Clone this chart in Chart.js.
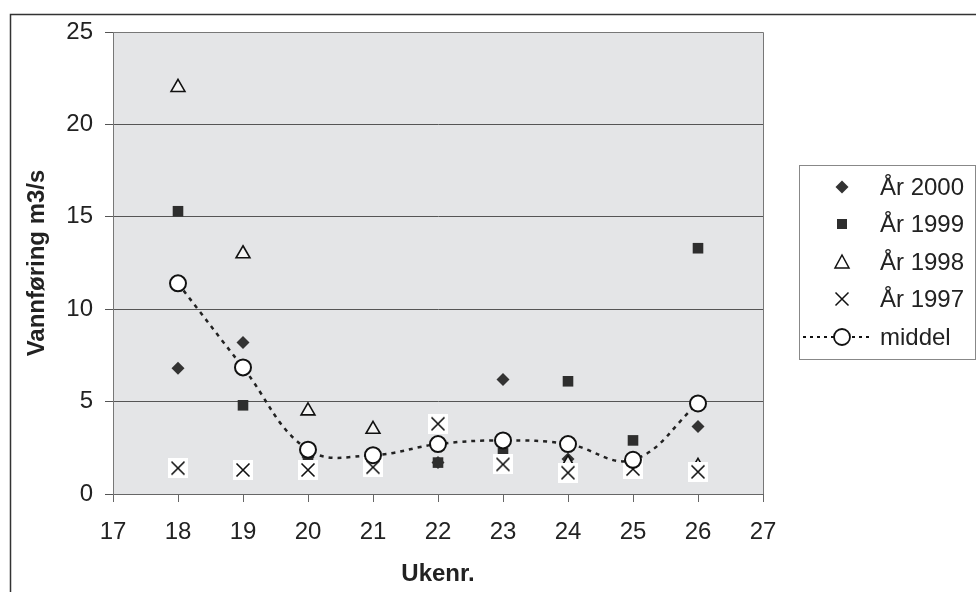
<!DOCTYPE html>
<html><head><meta charset="utf-8">
<script src="https://cdn.jsdelivr.net/npm/chart.js@4.4.1/dist/chart.umd.min.js"></script>
<style>html,body{margin:0;padding:0;background:#fff;} canvas{display:block;}</style>
</head><body>
<canvas id="c" width="976" height="592"></canvas>
<script>
const weeks = [18, 19, 20, 21, 22, 23, 24, 25, 26];
const year2000 = [6.8, 8.2, 2.0, 1.8, 1.7, 6.2, 1.9, 1.6, 3.65];
const year1999 = [15.3, 4.8, 1.8, 1.7, 1.7, 2.2, 6.1, 2.9, 13.3];
const year1998 = [22.0, 13.0, 4.5, 3.5, 3.6, 1.6, 1.65, 1.5, 1.5];
const year1997 = [1.4, 1.3, 1.3, 1.45, 3.8, 1.6, 1.15, 1.35, 1.2];
const middel = [11.4, 6.85, 2.4, 2.1, 2.7, 2.9, 2.7, 1.85, 4.9];
const seriesNames = ['År 2000', 'År 1999', 'År 1998', 'År 1997', 'middel'];
const xTitle = 'Ukenr.';
const yTitle = 'Vannføring m3/s';

const FONT = '"Liberation Sans", Arial, sans-serif';
const pts = arr => weeks.map((w, i) => ({x: w, y: arr[i]}));

// X marker on a white square (as in the original)
function makeCrossBox() {
  const c = document.createElement('canvas');
  c.width = 20; c.height = 20;
  const g = c.getContext('2d');
  g.fillStyle = '#ffffff';
  g.fillRect(0, 0, 20, 20);
  g.strokeStyle = '#111';
  g.lineWidth = 1.6;
  g.beginPath();
  g.moveTo(3.5, 3.5); g.lineTo(16.5, 16.5);
  g.moveTo(16.5, 3.5); g.lineTo(3.5, 16.5);
  g.stroke();
  return c;
}
const crossBox = makeCrossBox();

const bgPlugin = {
  id: 'bg',
  beforeDraw(chart) {
    const {ctx, chartArea: a} = chart;
    ctx.save();
    ctx.fillStyle = '#e4e5e7';
    ctx.fillRect(a.left, a.top, a.right - a.left, a.bottom - a.top);
    ctx.strokeStyle = '#333';
    ctx.lineWidth = 1.5;
    ctx.strokeRect(10.5, 14.5, 1000, 1000);
    ctx.restore();
  },
  afterDatasetsDraw(chart) {
    const {ctx, chartArea: a} = chart;
    ctx.save();
    ctx.strokeStyle = '#777';
    ctx.lineWidth = 1;
    ctx.beginPath();
    ctx.moveTo(a.left, a.top + 0.5); ctx.lineTo(a.right + 0.5, a.top + 0.5);
    ctx.lineTo(a.right + 0.5, a.bottom);
    ctx.stroke();
    ctx.restore();
  },
  afterDraw(chart) {
    const ctx = chart.ctx;
    ctx.save();
    ctx.strokeStyle = '#888';
    ctx.lineWidth = 1;
    ctx.strokeRect(799.5, 165.5, 176, 194);
    const mx = 842, tx = 880;
    const rows = [187, 224, 262, 299, 337];
    ctx.font = '24px ' + FONT;
    ctx.fillStyle = '#222';
    ctx.textBaseline = 'middle';
    rows.forEach((y, i) => ctx.fillText(seriesNames[i], tx, y + 1));
    // diamond
    ctx.fillStyle = '#333';
    ctx.beginPath();
    ctx.moveTo(mx, rows[0] - 6.5); ctx.lineTo(mx + 6.5, rows[0]); ctx.lineTo(mx, rows[0] + 6.5); ctx.lineTo(mx - 6.5, rows[0]);
    ctx.closePath(); ctx.fill();
    // square
    ctx.fillStyle = '#2e2e2e';
    ctx.fillRect(mx - 5, rows[1] - 5, 10, 10);
    // triangle
    ctx.strokeStyle = '#111'; ctx.lineWidth = 1.5;
    ctx.beginPath();
    ctx.moveTo(mx, rows[2] - 7); ctx.lineTo(mx + 7, rows[2] + 6); ctx.lineTo(mx - 7, rows[2] + 6);
    ctx.closePath(); ctx.stroke();
    // cross
    ctx.beginPath();
    ctx.moveTo(mx - 6.5, rows[3] - 6.5); ctx.lineTo(mx + 6.5, rows[3] + 6.5);
    ctx.moveTo(mx + 6.5, rows[3] - 6.5); ctx.lineTo(mx - 6.5, rows[3] + 6.5);
    ctx.stroke();
    // middel line + circle
    ctx.setLineDash([3, 4]); ctx.lineWidth = 2;
    ctx.beginPath(); ctx.moveTo(803, rows[4]); ctx.lineTo(870, rows[4]); ctx.stroke();
    ctx.setLineDash([]);
    ctx.fillStyle = '#fff'; ctx.lineWidth = 1.8;
    ctx.beginPath(); ctx.arc(mx, rows[4], 8, 0, Math.PI * 2); ctx.fill(); ctx.stroke();
    ctx.restore();
  }
};

new Chart(document.getElementById('c'), {
  type: 'scatter',
  data: {
    datasets: [
      {label: seriesNames[4], data: pts(middel), order: 0, showLine: true, tension: 0.4,
       borderColor: '#222', borderWidth: 2.5, borderDash: [4, 5],
       pointStyle: 'circle', pointRadius: 8, pointBorderWidth: 2,
       pointBackgroundColor: '#fff', pointBorderColor: '#111'},
      {label: seriesNames[3], data: pts(year1997), order: 1, pointStyle: crossBox},
      {label: seriesNames[2], data: pts(year1998), order: 2, pointStyle: 'triangle', pointRadius: 8,
       pointBackgroundColor: '#f4f4f4', pointBorderColor: '#111', pointBorderWidth: 1.6},
      {label: seriesNames[1], data: pts(year1999), order: 3, pointStyle: 'rect', pointRadius: 7.5,
       pointBackgroundColor: '#2e2e2e', pointBorderColor: '#2e2e2e', pointBorderWidth: 0},
      {label: seriesNames[0], data: pts(year2000), order: 4, pointStyle: 'rectRot', pointRadius: 6.5,
       pointBackgroundColor: '#333', pointBorderColor: '#333', pointBorderWidth: 0}
    ]
  },
  options: {
    responsive: false,
    animation: false,
    devicePixelRatio: 1,
    layout: {padding: {left: 0, top: 32, right: 213, bottom: 0}},
    plugins: {legend: {display: false}, tooltip: {enabled: false}},
    scales: {
      x: {
        type: 'linear', min: 17, max: 27,
        ticks: {stepSize: 1, color: '#222', padding: 16, font: {family: FONT, size: 24}},
        grid: {drawOnChartArea: false, drawTicks: true, tickLength: 8, color: '#666'},
        border: {color: '#666', width: 1},
        title: {display: true, text: xTitle, color: '#222', font: {family: FONT, size: 24, weight: 'bold'},
                padding: {top: 0, bottom: 3}},
        afterFit: s => { s.height = 98; }
      },
      y: {
        min: 0, max: 25,
        ticks: {stepSize: 5, color: '#222', padding: 12, font: {family: FONT, size: 24}},
        grid: {color: '#555', tickLength: 8},
        border: {color: '#777', width: 1},
        title: {display: true, text: yTitle, color: '#222', font: {family: FONT, size: 24, weight: 'bold'},
                padding: {top: 23, bottom: 0}},
        afterFit: s => { s.width = 113; }
      }
    }
  },
  plugins: [bgPlugin]
});
</script>
</body></html>
